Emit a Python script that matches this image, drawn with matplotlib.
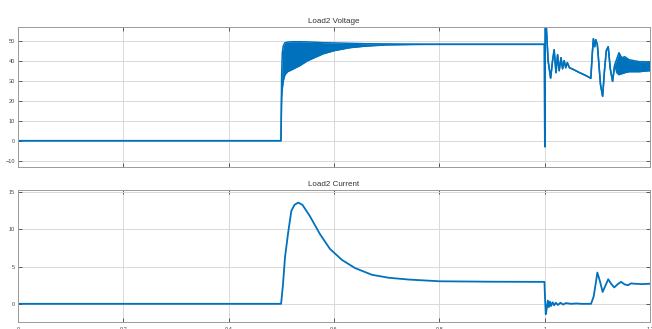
import numpy as np
import matplotlib
matplotlib.use("Agg")
import matplotlib.pyplot as plt

# Load2 voltage: time, upper and lower edge of the trace (equal where no ripple)
t_v = [0, 0.4995, 0.5008, 0.502, 0.504, 0.507, 0.512, 0.52, 0.535, 0.55,
       0.567, 0.58, 0.60, 0.63, 0.66, 0.70, 0.75, 0.80, 0.9995, 1.0002,
       1.0012, 1.0025, 1.0045, 1.0065, 1.0113, 1.015, 1.018, 1.0215, 1.0245,
       1.0275, 1.031, 1.034, 1.037, 1.040, 1.043, 1.047, 1.053, 1.065, 1.078,
       1.0876, 1.0905, 1.0925, 1.095, 1.097, 1.100, 1.103, 1.106, 1.110,
       1.1135, 1.117, 1.1206, 1.1245, 1.1289, 1.133, 1.137, 1.141, 1.146,
       1.152, 1.16, 1.17, 1.18, 1.19, 1.2]
v_hi = [0, 0, 33, 44, 47.5, 49, 49.3, 49.5, 49.5, 49.4,
        49.2, 49, 48.9, 48.7, 48.5, 48.4, 48.3, 48.2, 48.2, -3,
        62, 60, 50, 40, 31.3, 40, 45.5, 34, 43,
        35, 41.5, 36, 40, 36.5, 39, 36.5, 35.8, 34.2, 32.6,
        31.2, 44, 51, 47, 50.5, 48, 38, 28, 22.2,
        35, 45, 47, 36, 29.7, 38, 41, 44, 41.5,
        42, 40.5, 40, 39.5, 39.5, 39]
v_lo = [0, 0, 22, 26, 30, 33, 34.5, 35.5, 37.5, 40,
        42, 43.5, 45, 46.5, 47.3, 47.9, 48.1, 48.2, 48.2, -3,
        62, 60, 50, 40, 31.3, 40, 45.5, 34, 43,
        35, 41.5, 36, 40, 36.5, 39, 36.5, 35.8, 34.2, 32.6,
        31.2, 44, 51, 47, 50.5, 48, 38, 28, 22.2,
        35, 45, 47, 36, 29.7, 38, 34, 33, 33.5,
        34, 34.5, 34.5, 34.5, 34.8, 35]

# Load2 current
t_i = [0, 0.4995, 0.503, 0.507, 0.513, 0.519, 0.525, 0.532, 0.54, 0.554,
       0.573, 0.592, 0.615, 0.64, 0.672, 0.704, 0.742, 0.80, 0.90, 0.9995,
       1.0005, 1.002, 1.004, 1.006, 1.008, 1.010, 1.012, 1.015, 1.018, 1.021,
       1.025, 1.03, 1.035, 1.04, 1.05, 1.06, 1.07, 1.08, 1.088, 1.093,
       1.097, 1.100, 1.105, 1.110, 1.115, 1.1206, 1.126, 1.132, 1.138, 1.145,
       1.152, 1.158, 1.164, 1.17, 1.185, 1.2]
i_load = [0, 0, 2.5, 6.3, 9.6, 12.5, 13.3, 13.6, 13.3, 11.8,
          9.4, 7.4, 5.9, 4.8, 3.9, 3.5, 3.26, 3.03, 2.97, 2.95,
          1.0, -1.4, -0.6, 0.45, -0.45, 0.3, -0.3, 0.2, -0.2, 0.15,
          -0.15, 0.15, -0.1, 0.1, 0, 0.05, 0, 0, 0, 1.0,
          2.8, 4.2, 3.0, 1.6, 2.4, 3.3, 2.7, 2.2, 2.6, 2.95,
          2.6, 2.5, 2.75, 2.7, 2.65, 2.7]

x_ticks = [0, 0.2, 0.4, 0.6, 0.8, 1.0, 1.2]
x_labels = ["0", "0.2", "0.4", "0.6", "0.8", "1", "1.2"]
v_ticks = [-10, 0, 10, 20, 30, 40, 50]
i_ticks = [0, 5, 10, 15]

blue = "#0072BD"
plt.rcParams["font.family"] = ["Liberation Sans", "DejaVu Sans"]

fig = plt.figure(figsize=(6.52, 3.29), dpi=100)
ax1 = fig.add_axes([0.0273, 0.4933, 0.9697, 0.4255])
ax2 = fig.add_axes([0.0276, 0.0222, 0.9694, 0.4005])


def style(ax):
    ax.set_xlim(0, 1.2)
    ax.set_xticks(x_ticks)
    ax.grid(True, color="#d9d9d9", linewidth=0.7)
    ax.set_axisbelow(True)
    ax.tick_params(direction="in", length=3, width=0.6, colors="#444444",
                   labelsize=4, pad=2, top=True, right=True)
    for s in ax.spines.values():
        s.set_color("#9a9a9a")
        s.set_linewidth(0.7)


ax1.fill_between(t_v, v_lo, v_hi, color=blue, linewidth=0)
ax1.plot(t_v, v_hi, color=blue, linewidth=1.1)
ax1.plot(t_v, v_lo, color=blue, linewidth=1.1)
ax1.set_ylim(-13, 57)
ax1.set_yticks(v_ticks)
style(ax1)
ax1.set_xticklabels([])
ax1.set_title("Load2 Voltage", fontsize=5.8, pad=2.5, color="#333333")

ax2.plot(t_i, i_load, color=blue, linewidth=1.3)
ax2.set_ylim(-2.4, 15.3)
ax2.set_yticks(i_ticks)
style(ax2)
ax2.set_xticklabels(x_labels)
ax2.tick_params(axis="x", pad=4)
ax2.set_title("Load2 Current", fontsize=5.8, pad=2.5, color="#333333")

fig.savefig("out.png", dpi=100)
